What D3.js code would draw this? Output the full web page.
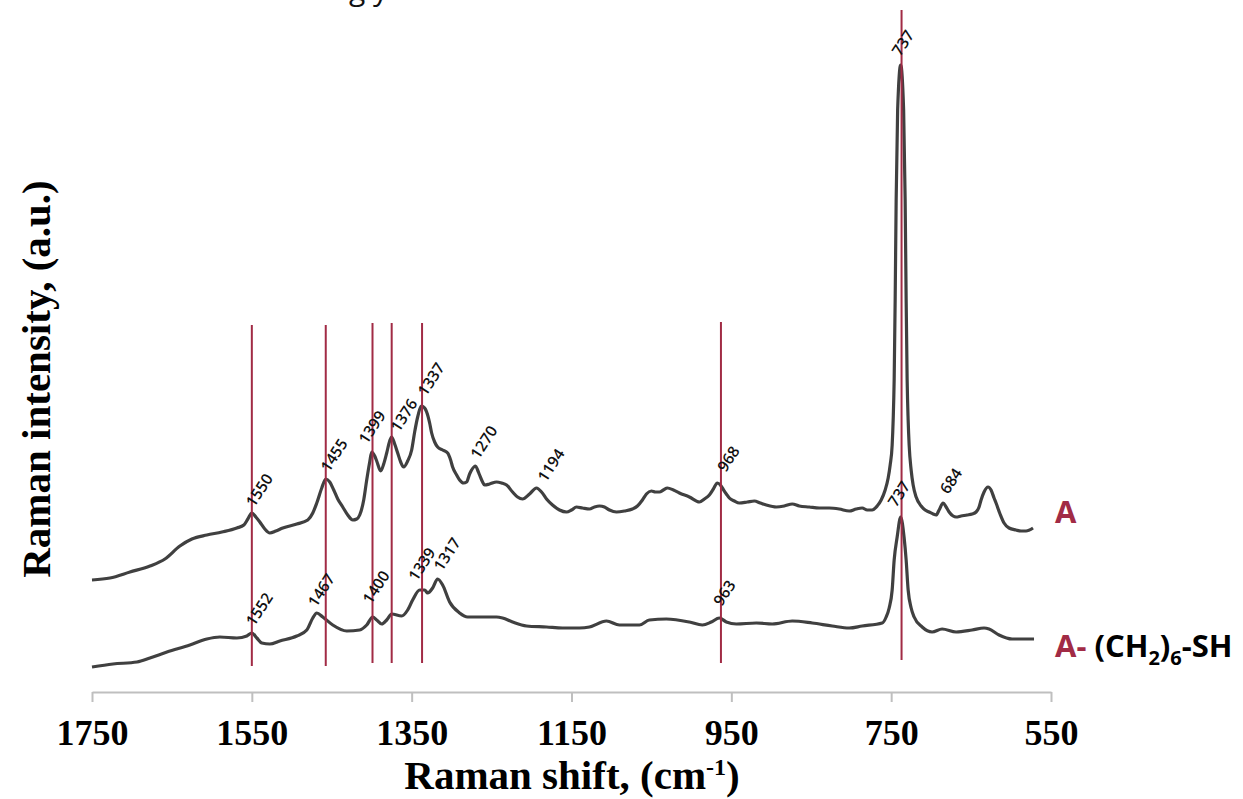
<!DOCTYPE html>
<html>
<head>
<meta charset="utf-8">
<script src="https://cdn.jsdelivr.net/npm/d3@7"></script>
<style>
  body { margin: 0; background: #fff; }
  svg { display: block; }
</style>
</head>
<body>
<svg id="chart" width="1243" height="799"></svg>
<script>
// spectrum A (top trace): [wavenumber cm-1, intensity a.u.]
var specA = [
  [1750,50],[1727.5,51],[1702.5,54],[1677.5,57],[1658.75,60.5],[1640,67],[1625,70.5],[1606.25,72.5],
  [1587.5,74],[1568.75,76],[1560,77.5],[1555,80.5],[1550,83.5],[1545,81.5],[1540,79],[1533.75,75.5],
  [1527.5,73.5],[1520,74.5],[1511.25,76],[1493.75,78],[1480,80],[1473.75,83.5],[1468.75,88.5],[1462.5,96],
  [1457.5,100.5],[1452.5,99],[1447.5,95],[1442.5,90.5],[1436.25,86.5],[1430,82.5],[1423.75,80],[1418.75,80.5],
  [1415,82.5],[1410,90],[1406.25,100],[1402.5,109],[1400,114],[1396.25,112],[1393.75,109.5],[1388.75,104.5],
  [1385,108],[1381.25,113.5],[1377.5,119.5],[1375,121.5],[1371.25,118],[1367.5,113.5],[1363.75,109],[1360,106.5],
  [1355,109.5],[1350,115],[1346.25,124],[1342.5,131.5],[1337.5,137],[1333.75,136],[1331.25,134],[1327.5,128.5],
  [1325,123.5],[1321.25,119],[1317.5,116.5],[1311.25,115],[1305,113.5],[1301.25,110],[1298.75,106.5],[1293.75,102.5],
  [1290,100],[1285,98.5],[1281.25,99],[1277.5,103],[1275,105],[1270,107],[1267.5,105],[1265,102.5],
  [1261.25,99],[1258.75,97.5],[1252.5,98],[1243.75,99],[1237.5,98.5],[1231.25,97.5],[1223.75,94],[1217.5,91.5],
  [1211.25,90.5],[1202.5,93],[1193.75,96],[1187.5,94],[1181.25,90.5],[1173.75,87.5],[1165,85],[1156.25,84],
  [1150,85],[1143.75,86.5],[1136.25,86],[1127.5,85.5],[1121.25,86.5],[1115,87],[1108.75,86.5],[1102.5,85],
  [1093.75,84],[1083.75,84.5],[1073.75,85.5],[1067.5,87],[1061.25,90],[1056.25,93],[1050,94.5],[1045,94],
  [1040,94],[1035,95],[1030,96],[1022.5,95],[1015,93.5],[1002.5,91.5],[990,89],[983.75,90.5],
  [977.5,92.5],[972.5,95.5],[967.5,98.5],[963.75,97.5],[961.25,96],[956.25,93],[952.5,91],[946.25,89.5],
  [940,88.5],[930,89],[921.25,89.5],[913.75,88.5],[906.25,87.5],[893.75,86.5],[883.75,87],[873.75,88],
  [865,87],[852.5,86.5],[840,86],[827.5,86],[815,85.5],[802.5,84.5],[793.75,85.5],[786.25,86],
  [780,85],[773.75,85],[767.5,87],[762.5,90],[757.5,95],[753.75,101],[751.25,107.5],[748.75,117.5],
  [747.5,130],[746.25,150],[745,190],[743.75,240],[741.9,285],[738.1,307.5],[734.4,285],[732.5,240],
  [731.25,190],[730,150],[728.75,130],[727.5,117.5],[725,105],[722.5,97.5],[718.75,91.5],[712.5,87],
  [707.5,85],[702.5,84],[697.5,83],[693.75,82.5],[690,85],[685,88.5],[681.25,86.5],[677.5,84],
  [672.5,82],[668.75,81.5],[662.5,82],[655,82.5],[648.75,83],[643.75,84],[640,86.5],[637.5,90],
  [633.75,94],[628.75,96.5],[625,95],[621.25,91],[618.75,88.5],[613.75,83],[608.75,78.5],[602.5,76],
  [593.75,75],[587.5,74.5],[581.25,74.5],[572.5,76]
];

// spectrum A-(CH2)6-SH (bottom trace)
var specB = [
  [1750,6.5],[1723.75,8],[1693.75,9],[1677.5,11],[1656.25,14],[1627.5,17.5],[1606.25,20.5],[1590,21.5],
  [1568.75,21],[1556.25,22],[1550,23.5],[1543.75,21],[1537.5,18.5],[1527.5,18],[1515,19.5],[1493.75,22],
  [1481.25,25],[1473.75,31],[1468.75,33.5],[1461.25,31.5],[1448.75,27.5],[1431.25,24.5],[1415,25],[1406.25,27.5],
  [1398.75,31.5],[1393.75,30],[1387.5,28],[1381.25,30],[1375,33],[1362.5,32],[1355,35],[1348.75,40],
  [1340,45],[1333.75,45],[1330,43.5],[1323.75,46],[1317.5,50.5],[1311.25,47.5],[1302.5,39],[1290,33.5],
  [1280,31.5],[1265,31.5],[1243.75,31.5],[1236.25,31],[1223.75,29],[1206.25,27],[1181.25,26.5],[1161.25,26],
  [1140,26],[1127.5,26.5],[1106.25,29.5],[1090,27.5],[1065,27.5],[1052.5,30],[1031.25,30.5],[1002.5,29],
  [986.25,27.5],[975,29],[965,31],[956.25,29],[943.75,28],[918.75,28.5],[898.75,28],[873.75,29.5],
  [848.75,28.5],[823.75,27],[802.5,26],[786.25,27],[761.25,28.5],[756.25,31.5],[752.5,36],[748.75,45],
  [746.25,60],[742.5,71.5],[738.1,81.5],[733.75,71],[731.25,60],[728.75,45],[725,36],[721.25,31.5],
  [711.25,26.5],[698.75,24],[686.25,25.5],[668.75,24],[648.75,25],[633.75,26],[627.5,25.5],[615,22.5],
  [598.75,20.5],[571.25,20.5]
];

// peak labels: [text, wavenumber, intensity] at label start
var labelsA = [
  ["1550",1547,86],["1455",1453.5,103.5],["1399",1406,117.5],["1376",1366,123.5],
  ["1337",1332,141.5],["1270",1266,110],["1194",1182,98.5],["968",957,103.5],
  ["737",738.5,311.5],["684",678.5,92.5]
];
var labelsB = [
  ["1552",1547,26.5],["1467",1469.5,36],["1400",1401,37.5],["1339",1343.5,49],
  ["1317",1312,54],["963",962,36.5],["737",743.5,86]
];

// marker lines: [wavenumber, bottom intensity, top intensity]
var markerLines = [
  [1550,7,177.5],[1457.5,7,177.5],[1399,8.5,178.5],[1375,8.5,178.5],
  [1337,8.5,178.5],[963,8.5,179],[737,10,335]
];

var xTicks = [1750,1550,1350,1150,950,750,550];

var svg = d3.select("#chart");
var red = "#a12b45";

var x = d3.scaleLinear().domain([1750, 550]).range([92, 1051]);
var y = d3.scaleLinear().domain([0, 340]).range([680, 0]);

// caption fragment cut by the top edge
svg.append("text")
  .attr("x", 349).attr("y", 0)
  .style("font-family", "'Open Sans', sans-serif")
  .style("font-size", "30px")
  .style("fill", "#111")
  .text("g y");

var line = d3.line()
  .x(function(d) { return x(d[0]); })
  .y(function(d) { return y(d[1]); })
  .curve(d3.curveMonotoneX);

[specA, specB].forEach(function(s) {
  svg.append("path")
    .datum(s)
    .attr("d", line)
    .style("fill", "none")
    .style("stroke", "#404040")
    .style("stroke-width", 3.2)
    .style("stroke-linejoin", "round");
});

svg.selectAll(".marker")
  .data(markerLines)
  .enter().append("line")
    .attr("class", "marker")
    .attr("x1", function(d) { return x(d[0]); })
    .attr("x2", function(d) { return x(d[0]); })
    .attr("y1", function(d) { return y(d[1]); })
    .attr("y2", function(d) { return y(d[2]); })
    .style("stroke", red)
    .style("stroke-width", 2);

svg.selectAll(".peak")
  .data(labelsA.concat(labelsB))
  .enter().append("text")
    .attr("class", "peak")
    .attr("transform", function(d) { return "translate(" + x(d[1]) + "," + y(d[2]) + ") rotate(-57)"; })
    .style("font-family", "'Open Sans', sans-serif")
    .style("font-size", "15.5px")
    .style("font-weight", "600")
    .style("fill", "#111")
    .text(function(d) { return d[0]; });

// x axis
var xAxis = d3.axisBottom(x)
  .tickValues(xTicks)
  .tickSize(10)
  .tickSizeOuter(0)
  .tickFormat(d3.format("d"));

var gx = svg.append("g")
  .attr("transform", "translate(0,692)")
  .call(xAxis);
gx.select(".domain").style("stroke", "#bfbfbf").style("stroke-width", 2);
gx.selectAll(".tick line").style("stroke", "#bfbfbf").style("stroke-width", 2);
gx.selectAll(".tick text")
  .attr("y", 53).attr("dy", null)
  .style("font-family", "'Liberation Serif', 'Times New Roman', serif")
  .style("font-weight", "bold")
  .style("font-size", "36px")
  .style("fill", "#000");

// axis titles
var xt = svg.append("text")
  .attr("x", 572).attr("y", 789)
  .attr("text-anchor", "middle")
  .style("font-family", "'Liberation Serif', 'Times New Roman', serif")
  .style("font-weight", "bold")
  .style("font-size", "41px");
xt.append("tspan").text("Raman shift, (cm");
xt.append("tspan").attr("dy", -14).style("font-size", "24px").text("-1");
xt.append("tspan").attr("dy", 14).text(")");

svg.append("text")
  .attr("transform", "translate(50,379) rotate(-90)")
  .attr("text-anchor", "middle")
  .style("font-family", "'Liberation Serif', 'Times New Roman', serif")
  .style("font-weight", "bold")
  .style("font-size", "41px")
  .text("Raman intensity, (a.u.)");

// series names
svg.append("text")
  .attr("x", 1055).attr("y", 523)
  .style("font-family", "'Open Sans', sans-serif")
  .style("font-weight", "bold")
  .style("font-size", "31px")
  .style("fill", red)
  .text("A");

var lb = svg.append("text")
  .attr("x", 1055).attr("y", 657)
  .style("font-family", "'Open Sans', sans-serif")
  .style("font-weight", "bold")
  .style("font-size", "31px");
lb.append("tspan").style("fill", red).text("A- ");
lb.append("tspan").style("fill", "#000").text("(CH");
lb.append("tspan").attr("dy", 8).style("font-size", "20px").text("2");
lb.append("tspan").attr("dy", -8).text(")");
lb.append("tspan").attr("dy", 8).style("font-size", "20px").text("6");
lb.append("tspan").attr("dy", -8).text("-SH");
</script>
</body>
</html>
